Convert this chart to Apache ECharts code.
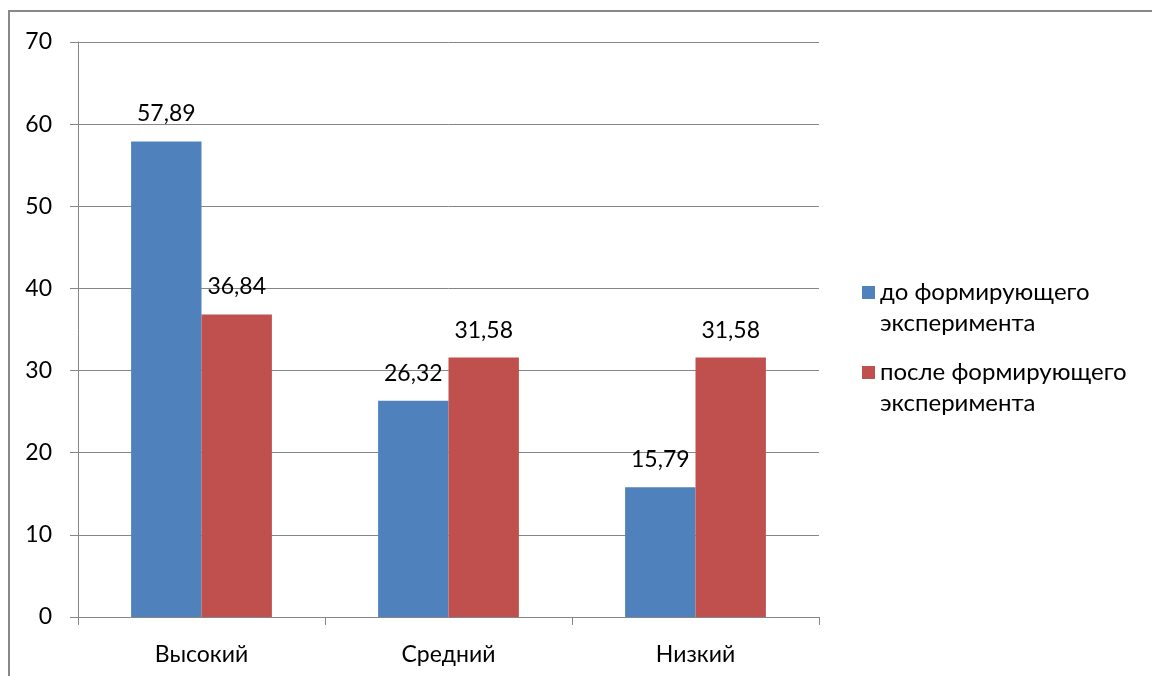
<!DOCTYPE html>
<html>
<head>
<meta charset="utf-8">
<script src="https://cdn.jsdelivr.net/npm/echarts@6/dist/echarts.min.js"></script>
<style>
  html, body { margin: 0; padding: 0; background: #fff; }
  #chart { width: 1152px; height: 676px; }
</style>
</head>
<body>
<div id="chart"></div>
<script>
var categories = ["Высокий", "Средний", "Низкий"];
var seriesNames = ["до формирующего", "после формирующего"];
var before = [57.89, 26.32, 15.79];
var after = [36.84, 31.58, 31.58];

var font = "Lato";
var fontSize = 23;

var dom = document.getElementById("chart");
var myChart = echarts.init(dom, null, { renderer: "canvas" });

function barLabel() {
  return {
    show: true,
    position: "top",
    distance: 16,
    color: "#000",
    fontFamily: font,
    fontSize: fontSize,
    formatter: function (p) {
      return p.value.toFixed(2).replace(".", ",");
    },
  };
}

// пустая первая строка, чтобы значок стоял напротив первой строки текста
function legendAt(top, name) {
  return {
    orient: "vertical",
    left: 857,
    top: top,
    itemWidth: 13,
    itemHeight: 13,
    icon: "rect",
    data: [name],
    formatter: function (n) {
      return "\n" + n + "\nэксперимента";
    },
    textStyle: {
      fontFamily: font,
      fontSize: 24,
      color: "#000",
      lineHeight: 31,
    },
  };
}

var option = {
  animation: false,
  backgroundColor: "#fff",
  graphic: [
    {
      type: "rect",
      shape: { x: 9, y: 11, width: 1400, height: 900 },
      style: { fill: "none", stroke: "#888", lineWidth: 2 },
      silent: true,
    },
  ],
  legend: [legendAt(241, seriesNames[0]), legendAt(321, seriesNames[1])],
  grid: { left: 78, right: 333, top: 42, bottom: 59 },
  xAxis: {
    type: "category",
    data: categories,
    axisLine: { lineStyle: { color: "#868686", width: 1 } },
    axisTick: { show: true, length: 8, lineStyle: { color: "#868686" } },
    axisLabel: { color: "#000", fontFamily: font, fontSize: fontSize, margin: 26 },
  },
  yAxis: {
    type: "value",
    min: 0,
    max: 70,
    interval: 10,
    axisLine: { show: true, lineStyle: { color: "#868686", width: 1 } },
    axisTick: { show: true, length: 8, lineStyle: { color: "#868686" } },
    axisLabel: { color: "#000", fontFamily: font, fontSize: fontSize, margin: 26 },
    splitLine: { lineStyle: { color: "#868686", width: 1 } },
  },
  series: [
    {
      name: seriesNames[0],
      type: "bar",
      data: before,
      barGap: "0%",
      barCategoryGap: "43%",
      itemStyle: { color: "#4f81bd" },
      label: barLabel(),
    },
    {
      name: seriesNames[1],
      type: "bar",
      data: after,
      itemStyle: { color: "#c0504d" },
      label: barLabel(),
    },
  ],
};

myChart.setOption(option);
window.addEventListener("resize", myChart.resize);
</script>
</body>
</html>
